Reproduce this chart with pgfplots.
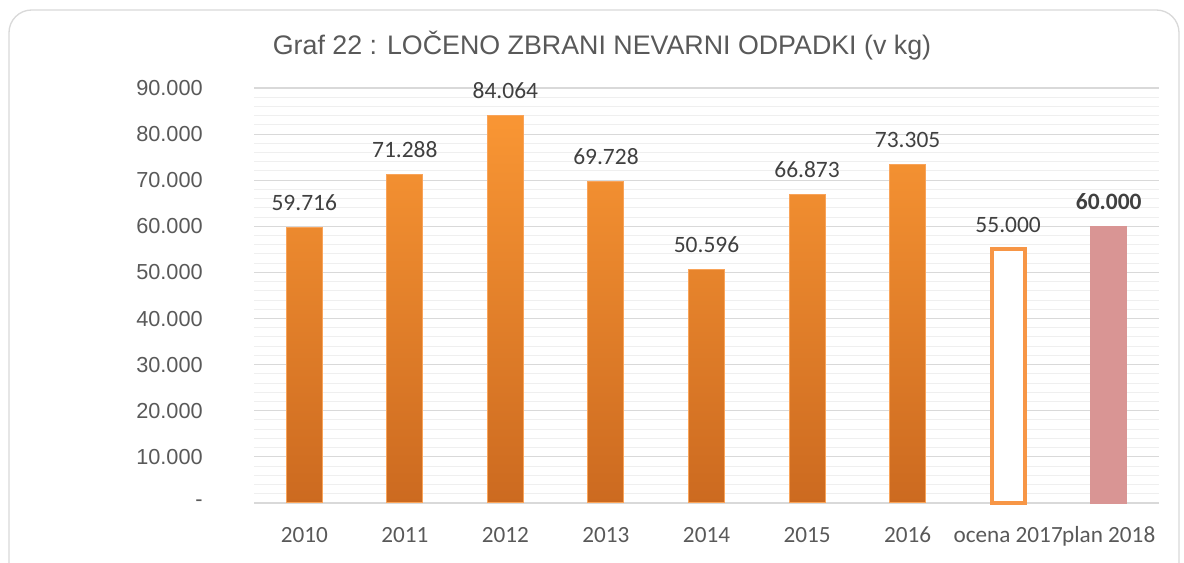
\documentclass[border=0pt]{standalone}
\usepackage{pgfplots}
\pgfplotsset{compat=1.18}
\usepackage{fontspec}
\setmainfont{Liberation Sans}
\newfontfamily\calibri{Carlito}
\definecolor{txt}{HTML}{595959}
\definecolor{lbl}{HTML}{404040}
\definecolor{gridmaj}{HTML}{D9D9D9}
\definecolor{gridmin}{HTML}{EFEFEF}
\definecolor{otop}{HTML}{F99634}
\definecolor{obot}{HTML}{CC6A20}
\definecolor{oedge}{HTML}{F9A45A}
\definecolor{outl}{HTML}{F79646}
\definecolor{pinkbar}{HTML}{D99594}
\begin{document}
\begin{tikzpicture}[x=0.75pt,y=0.75pt]
\begin{scope}
\clip (0,0) rectangle (1184,563);
\draw[gridmaj, line width=1pt, rounded corners=17pt] (9,-40) rectangle (1179,553);
\end{scope}
\node[anchor=base, font=\fontsize{20.1}{24}\selectfont, text=txt, inner sep=0] at (602,508) {Graf 22 : LOČENO ZBRANI NEVARNI ODPADKI (v kg)};
\coordinate (axnw) at (254,475);
\begin{axis}[
  at={(axnw)}, anchor=north west, scale only axis,
  width=678.75pt, height=311.25pt,
  xmin=-0.5, xmax=8.5, ymin=0, ymax=90000,
  scaled y ticks=false,
  axis line style={draw=none},
  major tick length=0pt, minor tick length=0pt,
  xtick={0,1,2,3,4,5,6,7,8},
  xticklabels={2010,2011,2012,2013,2014,2015,2016,ocena 2017,plan 2018},
  ytick={0,10000,20000,30000,40000,50000,60000,70000,80000,90000},
  yticklabels={\raisebox{-3pt}{-}\hspace{11.5pt},10.000,20.000,30.000,40.000,50.000,60.000,70.000,80.000,90.000},
  minor y tick num=4,
  ymajorgrids, yminorgrids,
  major grid style={gridmaj, line width=0.9pt},
  minor grid style={gridmin, line width=0.75pt},
  xticklabel style={font=\calibri\fontsize{17.4}{20}\selectfont, text=txt, anchor=base, yshift=-29.6pt, inner sep=0pt},
  yticklabel style={font=\fontsize{16.3}{19}\selectfont, text=txt, anchor=east, xshift=-38.25pt, inner sep=0pt},
  ybar, bar width=27pt, bar shift=0pt,
  nodes near coords, point meta=explicit symbolic,
  every node near coord/.append style={font=\calibri\fontsize{17.6}{20}\selectfont, text=lbl, anchor=base, yshift=12.9pt, inner sep=0pt},
  clip=false,
]
\addplot[draw=oedge, line width=0.75pt, top color=otop, bottom color=obot] coordinates {
  (0,59716) [59.716]
  (1,71288) [71.288]
  (2,84064) [84.064]
  (3,69728) [69.728]
  (4,50596) [50.596]
  (5,66873) [66.873]
  (6,73305) [73.305]
};
\addplot[draw=outl, line width=3pt, fill=white, bar width=25pt] coordinates {
  (7,55000) [55.000]
};
\addplot[draw=pinkbar, fill=pinkbar, every node near coord/.append style={font=\calibri\bfseries\fontsize{17.6}{20}\selectfont}] coordinates {
  (8,60000) [60.000]
};
\end{axis}
\pgfresetboundingbox
\useasboundingbox (0,0) rectangle (1184,563);
\end{tikzpicture}
\end{document}
